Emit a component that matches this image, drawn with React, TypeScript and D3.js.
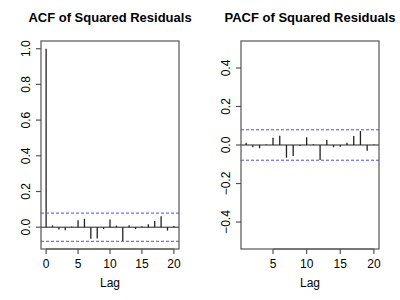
import * as d3 from 'd3';

const acfLags = [0, 1, 2, 3, 4, 5, 6, 7, 8, 9, 10, 11, 12, 13, 14, 15, 16, 17, 18, 19, 20];
const acfValues = [
  1.0, 0.01, -0.013, -0.017, 0.004, 0.039, 0.047, -0.065, -0.063, -0.011, 0.043, 0.009,
  -0.078, 0.011, -0.011, 0.005, 0.017, 0.035, 0.062, -0.019, 0.007,
];
const pacfLags = [1, 2, 3, 4, 5, 6, 7, 8, 9, 10, 11, 12, 13, 14, 15, 16, 17, 18, 19, 20];
const pacfValues = [
  0.012, -0.012, -0.017, 0.003, 0.038, 0.048, -0.066, -0.057, -0.005, 0.04, 0.004, -0.078,
  0.026, -0.012, -0.009, 0.012, 0.047, 0.073, -0.03, 0.003,
];
const confLimit = 0.079;

const acfXTicks = [0, 5, 10, 15, 20];
const acfYTicks = [0, 0.2, 0.4, 0.6, 0.8, 1.0];
const pacfXTicks = [5, 10, 15, 20];
const pacfYTicks = [-0.4, -0.2, 0, 0.2, 0.4];

const FONT = '"Liberation Sans", Arial, Helvetica, sans-serif';

// R-style 4% axis expansion
const expand = (lo: number, hi: number): [number, number] => {
  const pad = (hi - lo) * 0.04;
  return [lo - pad, hi + pad];
};

interface PanelProps {
  readonly offsetX: number;
  readonly title: string;
  readonly lags: number[];
  readonly values: number[];
  readonly xTicks: number[];
  readonly yTicks: number[];
  readonly yLim: [number, number];
}

const Panel = ({ offsetX, title, lags, values, xTicks, yTicks, yLim }: PanelProps) => {
  const left = 41;
  const right = 179;
  const top = 41;
  const bottom = 249;

  const x = d3
    .scaleLinear()
    .domain(expand(d3.min(lags) as number, d3.max(lags) as number))
    .range([left, right]);
  const y = d3.scaleLinear().domain(expand(yLim[0], yLim[1])).range([bottom, top]);
  const fmt = d3.format('.1f');
  const cx = (left + right) / 2;

  return (
    <g transform={`translate(${offsetX},0)`} fontFamily={FONT}>
      <text x={cx} y={22} textAnchor="middle" fontSize={13} fontWeight="bold">
        {title}
      </text>

      {/* bars */}
      {lags.map((lag, i) => (
        <line
          key={lag}
          x1={x(lag)}
          x2={x(lag)}
          y1={y(0)}
          y2={y(values[i])}
          stroke="#222"
          strokeWidth={1.3}
        />
      ))}

      {/* zero line and confidence bounds */}
      <line x1={left} x2={right} y1={y(0)} y2={y(0)} stroke="#222" strokeWidth={1} />
      {[confLimit, -confLimit].map((c) => (
        <line
          key={c}
          x1={left}
          x2={right}
          y1={y(c)}
          y2={y(c)}
          stroke="#4a4aff"
          strokeWidth={1}
          strokeDasharray="3,2"
        />
      ))}

      <rect
        x={left}
        y={top}
        width={right - left}
        height={bottom - top}
        fill="none"
        stroke="#555"
        strokeWidth={1.2}
      />

      {/* x axis */}
      {xTicks.map((t) => (
        <g key={t}>
          <line x1={x(t)} x2={x(t)} y1={bottom} y2={bottom + 5} stroke="#555" strokeWidth={1.2} />
          <text x={x(t)} y={267.5} textAnchor="middle" fontSize={12}>
            {t}
          </text>
        </g>
      ))}
      <line
        x1={x(xTicks[0])}
        x2={x(xTicks[xTicks.length - 1])}
        y1={bottom}
        y2={bottom}
        stroke="#555"
        strokeWidth={1.2}
      />
      <text x={cx} y={287} textAnchor="middle" fontSize={12}>
        Lag
      </text>

      {/* y axis */}
      {yTicks.map((t) => (
        <g key={t}>
          <line x1={left - 5} x2={left} y1={y(t)} y2={y(t)} stroke="#555" strokeWidth={1.2} />
          <text
            transform={`translate(30,${y(t)}) rotate(-90)`}
            textAnchor="middle"
            fontSize={12}
          >
            {fmt(t).replace('-', '\u2212')}
          </text>
        </g>
      ))}
    </g>
  );
};

export default function App() {
  return (
    <svg
      width={400}
      height={300}
      style={{ position: 'absolute', left: 0, top: 0, background: '#fff' }}
    >
      <Panel
        offsetX={0}
        title="ACF of Squared Residuals"
        lags={acfLags}
        values={acfValues}
        xTicks={acfXTicks}
        yTicks={acfYTicks}
        yLim={[-confLimit, 1.0]}
      />
      <Panel
        offsetX={200}
        title="PACF of Squared Residuals"
        lags={pacfLags}
        values={pacfValues}
        xTicks={pacfXTicks}
        yTicks={pacfYTicks}
        yLim={[-0.5, 0.5]}
      />
    </svg>
  );
}
